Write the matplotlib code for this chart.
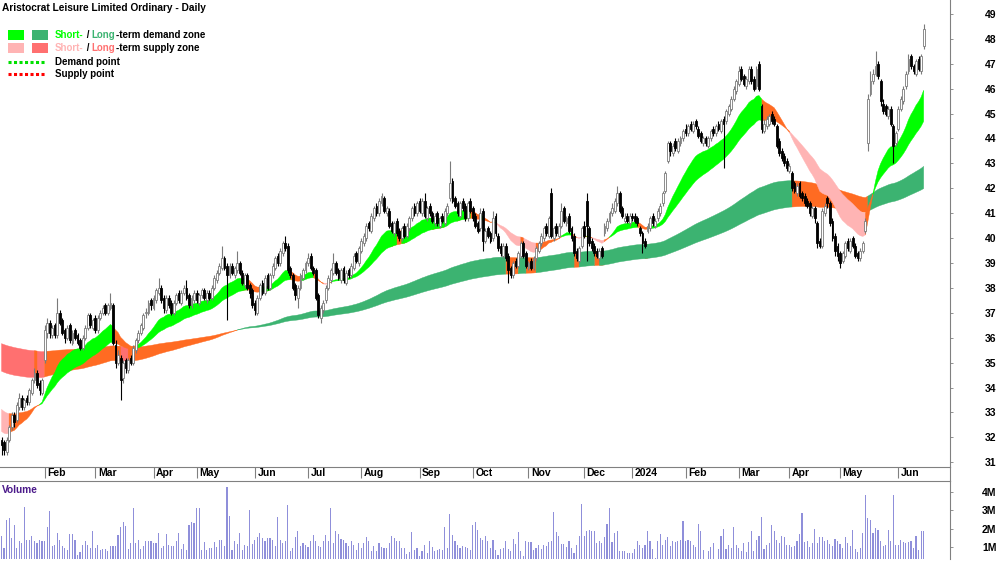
#!/usr/bin/env python3
"""
Daily candles for Aristocrat Leisure with short/long-term demand & supply zones.
"""

import numpy as np
import pandas as pd
import matplotlib

matplotlib.use("Agg")
import matplotlib.pyplot as plt
import matplotlib.transforms as mtransforms
from matplotlib.patches import Rectangle
from matplotlib.lines import Line2D

plt.rcParams["font.family"] = ["Liberation Sans", "DejaVu Sans"]

TITLE = "Aristocrat Leisure Limited Ordinary - Daily"
FIRST_SESSION = "2023-01-06"
ASX_HOLIDAYS = ["2023-01-26", "2023-04-07", "2023-04-10", "2023-04-25", "2023-06-12",
                "2023-12-25", "2023-12-26", "2024-01-01", "2024-01-26", "2024-03-29",
                "2024-04-01", "2024-04-25", "2024-06-10"]

# daily prices (AUD)
opens = [
    31.9, 31.8, 31.4, 31.9, 32.4, 32.9, 32.7, 33.2, 33.6, 33.2,
    33.6, 33.4, 33.8, 34.3, 34.6, 34.2, 33.8, 35.1, 36.2, 36.6,
    36.1, 36.5, 36.1, 37.0, 36.7, 36.3, 36.0, 36.5, 35.8, 36.3,
    36.1, 35.9, 35.6, 36.0, 36.4, 36.9, 36.4, 36.8, 36.3, 36.8,
    37.0, 37.3, 37.0, 37.2, 37.3, 35.7, 35.0, 35.2, 34.4, 35.1,
    34.7, 35.2, 35.0, 35.5, 35.9, 36.2, 36.4, 37.0, 37.0, 37.5,
    37.2, 37.5, 37.8, 38.0, 37.6, 37.1, 37.6, 37.4, 37.0, 37.4,
    37.8, 37.4, 37.8, 38.0, 37.7, 37.3, 37.5, 37.8, 37.4, 37.7,
    37.9, 37.5, 37.8, 37.6, 38.0, 38.3, 38.6, 38.8, 39.2, 38.9,
    38.5, 38.9, 38.5, 38.7, 39.0, 38.6, 38.1, 38.5, 38.1, 37.9,
    37.4, 37.0, 37.6, 38.2, 37.8, 38.5, 38.0, 38.5, 38.8, 39.3,
    39.0, 39.4, 39.8, 39.7, 38.8, 38.5, 38.1, 37.6, 38.0, 38.4,
    38.7, 39.0, 39.3, 38.8, 38.7, 37.7, 36.8, 37.1, 37.5, 38.0,
    38.3, 38.6, 39.0, 38.7, 38.3, 38.8, 38.2, 38.7, 38.5, 38.8,
    39.4, 39.0, 39.5, 39.8, 40.0, 40.6, 40.3, 40.8, 41.3, 41.0,
    41.4, 41.6, 41.0, 41.1, 40.6, 40.2, 40.7, 40.3, 40.0, 40.5,
    40.1, 40.4, 40.8, 41.3, 41.0, 41.5, 41.0, 41.5, 40.8, 41.3,
    41.0, 40.6, 41.0, 40.5, 40.9, 40.6, 41.0, 41.6, 42.3, 41.6,
    41.4, 40.9, 41.5, 41.3, 40.8, 41.5, 41.2, 40.9, 40.6, 40.4,
    41.1, 39.9, 40.4, 40.2, 40.0, 40.9, 40.1, 39.7, 39.3, 39.7,
    39.3, 38.8, 38.5, 39.1, 38.9, 39.3, 39.8, 39.4, 38.8, 39.1,
    38.8, 39.2, 39.5, 39.8, 40.0, 40.5, 40.1, 41.8, 40.0, 40.5,
    40.1, 40.5, 41.2, 40.6, 40.9, 40.4, 40.1, 39.5, 39.1, 39.7,
    40.5, 41.5, 40.4, 39.9, 39.7, 39.5, 39.2, 39.6, 40.2, 40.4,
    40.7, 41.0, 41.1, 41.4, 41.8, 41.2, 40.7, 40.9, 40.6, 40.9,
    40.9, 40.8, 40.4, 40.2, 39.9, 40.3, 40.4, 40.9, 40.5, 40.8,
    41.0, 41.4, 41.9, 43.1, 43.8, 43.4, 43.9, 43.5, 43.8, 44.0,
    44.4, 44.2, 44.6, 44.3, 44.7, 44.4, 44.2, 43.8, 44.0, 43.7,
    44.0, 44.4, 44.2, 44.6, 44.3, 44.8, 44.7, 45.0, 45.2, 45.6,
    45.9, 46.2, 46.8, 46.5, 46.1, 46.3, 46.8, 46.4, 46.1, 47.0,
    45.3, 44.3, 44.5, 44.6, 45.0, 44.8, 44.5, 43.9, 43.5, 43.3,
    43.1, 42.7, 42.6, 42.2, 41.8, 42.2, 41.8, 41.7, 41.5, 41.4,
    40.9, 41.2, 40.6, 39.9, 39.7, 41.0, 41.6, 41.4, 40.7, 40.1,
    39.7, 39.4, 39.1, 39.3, 39.9, 39.5, 40.0, 39.7, 39.4, 39.2,
    39.5, 40.3, 43.8, 45.8, 46.3, 46.6, 47.0, 46.3, 45.4, 45.3,
    44.9, 45.2, 44.5, 43.8, 44.4, 45.2, 45.5, 46.1, 46.7, 47.3,
    46.9, 46.6, 47.2, 46.7, 47.7,
]
highs = [
    32.0, 31.9, 32.0, 32.5, 33.0, 33.0, 33.4, 33.8, 33.7, 33.6,
    33.7, 34.0, 34.4, 34.8, 34.7, 34.3, 34.4, 36.5, 36.8, 36.7,
    36.5, 36.6, 37.6, 37.1, 36.8, 36.4, 36.5, 36.6, 36.3, 36.4,
    36.2, 36.0, 36.1, 36.5, 37.0, 37.0, 36.8, 36.9, 36.9, 37.1,
    37.3, 37.4, 37.4, 37.8, 37.4, 35.9, 35.5, 35.3, 35.1, 35.2,
    35.2, 35.3, 35.7, 36.0, 36.3, 36.6, 37.0, 37.2, 37.5, 37.6,
    37.7, 38.0, 38.4, 38.1, 37.7, 37.7, 37.7, 37.5, 37.5, 37.8,
    37.9, 37.9, 38.1, 38.3, 37.8, 37.7, 37.9, 37.9, 37.8, 38.0,
    38.0, 37.9, 37.9, 38.1, 38.5, 38.7, 39.0, 39.7, 39.3, 39.0,
    39.0, 39.0, 38.9, 39.5, 39.1, 38.7, 38.6, 38.6, 38.2, 38.0,
    37.5, 37.7, 38.2, 38.3, 38.5, 38.6, 38.6, 39.0, 39.3, 39.4,
    39.6, 39.9, 40.1, 39.8, 38.9, 38.6, 38.2, 38.1, 38.6, 38.8,
    39.1, 39.4, 39.4, 38.9, 38.8, 37.8, 37.3, 37.5, 38.1, 38.5,
    38.8, 39.4, 39.1, 38.8, 38.8, 38.9, 38.7, 38.8, 39.0, 39.4,
    39.5, 39.7, 40.0, 40.2, 40.6, 40.7, 41.0, 41.3, 41.4, 41.6,
    41.8, 41.7, 41.3, 41.2, 40.7, 40.7, 40.8, 40.4, 40.5, 40.6,
    40.6, 40.9, 41.3, 41.4, 41.5, 41.6, 41.6, 41.8, 41.3, 41.4,
    41.1, 41.0, 41.1, 40.9, 41.0, 41.2, 41.4, 43.1, 42.4, 41.7,
    41.5, 41.5, 41.6, 41.4, 41.5, 41.6, 41.3, 41.0, 40.7, 41.2,
    41.2, 40.4, 40.5, 40.3, 41.1, 41.0, 40.2, 39.8, 39.8, 39.8,
    39.4, 38.9, 39.1, 39.2, 39.5, 39.9, 39.9, 39.5, 39.1, 39.2,
    39.3, 39.7, 39.9, 40.2, 40.5, 40.6, 40.9, 42.0, 40.5, 40.6,
    40.6, 41.4, 41.3, 40.9, 41.0, 40.5, 40.2, 39.6, 39.7, 40.5,
    40.7, 41.8, 40.5, 40.0, 39.8, 39.6, 39.6, 39.7, 40.6, 40.8,
    41.1, 41.4, 41.6, 42.1, 41.9, 41.3, 41.0, 41.0, 41.0, 41.0,
    41.0, 40.9, 40.5, 40.3, 40.0, 40.6, 40.9, 41.0, 40.8, 41.2,
    41.4, 41.9, 42.7, 43.9, 43.9, 43.8, 44.0, 44.0, 44.1, 44.4,
    44.6, 44.6, 44.7, 44.7, 44.8, 44.5, 44.3, 44.1, 44.1, 44.1,
    44.4, 44.5, 44.6, 44.7, 44.8, 44.9, 45.2, 45.4, 45.7, 46.1,
    46.4, 46.9, 46.9, 46.6, 46.5, 46.9, 46.9, 46.5, 46.9, 47.1,
    45.4, 44.8, 44.9, 45.0, 45.1, 44.9, 44.6, 44.0, 43.6, 43.4,
    43.2, 43.0, 42.7, 42.3, 42.2, 42.3, 41.9, 41.8, 41.6, 41.5,
    41.3, 41.3, 40.7, 40.0, 41.2, 41.4, 41.7, 41.5, 40.8, 40.2,
    39.8, 39.5, 39.5, 39.9, 40.0, 40.0, 40.1, 39.8, 39.5, 39.6,
    39.9, 40.8, 45.8, 46.7, 46.8, 47.5, 47.1, 46.4, 45.6, 45.4,
    45.3, 45.3, 44.6, 44.3, 45.3, 45.7, 46.1, 46.7, 47.4, 47.4,
    47.0, 47.2, 47.3, 47.4, 48.6,
]
lows = [
    31.3, 31.3, 31.3, 31.8, 32.3, 32.4, 32.6, 33.1, 33.1, 33.1,
    33.3, 33.3, 33.7, 34.2, 34.0, 33.7, 33.7, 35.0, 36.0, 36.0,
    36.0, 36.0, 36.0, 36.5, 36.1, 35.8, 35.9, 35.8, 35.7, 35.9,
    35.7, 35.5, 35.5, 35.9, 36.3, 36.4, 36.3, 36.2, 36.2, 36.7,
    36.9, 36.9, 36.9, 37.1, 35.7, 34.8, 34.9, 33.5, 34.2, 34.6,
    34.6, 34.9, 34.9, 35.4, 35.8, 36.1, 36.3, 36.8, 36.9, 37.1,
    37.1, 37.4, 37.7, 37.4, 37.0, 37.0, 37.2, 36.9, 36.9, 37.3,
    37.4, 37.3, 37.7, 37.5, 37.2, 37.2, 37.4, 37.4, 37.3, 37.6,
    37.5, 37.4, 37.5, 37.5, 37.9, 38.2, 38.5, 38.7, 38.7, 36.7,
    38.4, 38.5, 38.4, 38.6, 38.5, 38.1, 38.0, 37.9, 37.6, 37.2,
    36.9, 36.9, 37.5, 37.7, 37.7, 37.9, 37.9, 38.4, 38.7, 38.9,
    38.9, 39.3, 39.5, 38.6, 38.4, 37.9, 37.5, 37.2, 37.9, 38.3,
    38.6, 38.9, 38.7, 38.5, 37.5, 36.8, 36.6, 37.0, 37.4, 37.9,
    38.2, 38.5, 38.5, 38.3, 38.2, 38.2, 38.1, 38.4, 38.4, 38.7,
    39.0, 38.9, 39.4, 39.7, 39.9, 40.3, 40.2, 40.7, 40.9, 40.9,
    41.3, 41.0, 40.9, 40.4, 40.2, 40.1, 40.1, 39.9, 39.9, 40.0,
    40.0, 40.3, 40.7, 40.9, 40.9, 41.0, 40.9, 40.8, 40.7, 40.9,
    40.6, 40.5, 40.5, 40.4, 40.6, 40.5, 40.9, 41.5, 41.4, 41.2,
    40.9, 40.8, 41.1, 40.7, 40.7, 41.0, 40.7, 40.4, 40.2, 40.3,
    39.5, 39.8, 40.0, 39.8, 39.9, 40.1, 39.5, 39.3, 39.2, 39.1,
    38.2, 38.4, 38.4, 38.8, 38.8, 39.2, 39.2, 38.8, 38.7, 38.7,
    38.7, 39.1, 39.4, 39.7, 39.9, 40.1, 40.0, 40.0, 39.9, 40.1,
    40.0, 40.4, 40.6, 40.5, 40.2, 39.9, 39.3, 39.1, 39.0, 39.6,
    40.0, 39.1, 39.7, 39.5, 39.3, 39.2, 39.1, 39.2, 40.1, 40.3,
    40.6, 40.9, 41.0, 41.3, 41.0, 40.8, 40.6, 40.6, 40.5, 40.7,
    40.6, 40.5, 40.1, 39.4, 39.6, 40.2, 40.3, 40.5, 40.4, 40.7,
    40.9, 41.3, 41.8, 43.0, 43.3, 43.3, 43.5, 43.4, 43.7, 43.9,
    44.1, 44.1, 44.3, 44.2, 44.4, 44.0, 43.8, 43.7, 43.7, 43.6,
    43.9, 44.1, 44.1, 44.3, 44.2, 42.8, 44.6, 44.9, 45.1, 45.5,
    45.8, 46.1, 46.3, 46.1, 46.0, 46.2, 46.2, 45.9, 46.0, 45.9,
    44.2, 44.2, 44.4, 44.5, 44.6, 44.5, 43.6, 43.3, 43.1, 42.9,
    42.7, 42.6, 41.9, 41.8, 41.7, 41.6, 41.5, 41.3, 41.2, 40.9,
    40.8, 40.6, 39.6, 39.6, 39.6, 40.9, 41.2, 40.5, 39.9, 39.3,
    39.1, 38.8, 39.0, 39.2, 39.5, 39.4, 39.6, 39.2, 39.1, 39.1,
    39.4, 40.2, 43.5, 45.7, 46.2, 46.5, 46.4, 45.3, 45.0, 44.9,
    44.8, 44.5, 43.0, 43.7, 44.3, 45.1, 45.4, 46.0, 46.6, 46.8,
    46.6, 46.5, 46.7, 46.6, 47.6,
]
closes = [
    31.7, 31.5, 31.9, 32.4, 32.9, 32.6, 33.3, 33.6, 33.2, 33.5,
    33.4, 33.9, 34.3, 34.6, 34.1, 33.9, 34.3, 36.3, 36.6, 36.2,
    36.4, 36.1, 37.0, 36.6, 36.2, 36.0, 36.4, 35.9, 36.2, 36.0,
    35.8, 35.6, 36.0, 36.4, 36.9, 36.5, 36.7, 36.3, 36.8, 37.0,
    37.2, 37.0, 37.3, 37.4, 35.8, 35.0, 35.3, 34.3, 35.0, 34.8,
    35.1, 35.0, 35.6, 35.9, 36.2, 36.5, 36.9, 37.0, 37.4, 37.3,
    37.6, 37.9, 38.0, 37.5, 37.2, 37.6, 37.3, 37.0, 37.4, 37.7,
    37.5, 37.8, 38.0, 37.6, 37.3, 37.6, 37.8, 37.5, 37.7, 37.9,
    37.6, 37.8, 37.6, 38.0, 38.4, 38.6, 38.9, 39.2, 38.8, 38.5,
    38.9, 38.6, 38.8, 39.0, 38.6, 38.2, 38.5, 38.0, 37.8, 37.3,
    37.1, 37.6, 38.1, 37.8, 38.4, 38.0, 38.5, 38.9, 39.2, 39.0,
    39.5, 39.8, 39.6, 38.7, 38.5, 38.0, 37.7, 38.0, 38.5, 38.7,
    39.0, 39.2, 38.8, 38.6, 37.6, 36.9, 37.2, 37.4, 38.0, 38.4,
    38.7, 39.0, 38.6, 38.4, 38.7, 38.3, 38.6, 38.5, 38.9, 39.3,
    39.1, 39.6, 39.9, 40.1, 40.5, 40.4, 40.9, 41.2, 41.0, 41.5,
    41.7, 41.1, 41.2, 40.5, 40.3, 40.6, 40.2, 40.0, 40.4, 40.1,
    40.5, 40.8, 41.2, 41.0, 41.4, 41.1, 41.5, 40.9, 41.2, 41.0,
    40.7, 40.9, 40.6, 40.8, 40.7, 41.1, 41.3, 42.2, 41.5, 41.3,
    41.0, 41.4, 41.2, 40.8, 41.4, 41.1, 40.8, 40.5, 40.3, 41.0,
    39.9, 40.3, 40.1, 39.9, 40.8, 40.2, 39.6, 39.4, 39.7, 39.2,
    38.7, 38.5, 39.0, 38.9, 39.4, 39.8, 39.3, 38.9, 39.0, 38.8,
    39.2, 39.6, 39.8, 40.1, 40.4, 40.2, 40.8, 40.1, 40.4, 40.2,
    40.5, 41.1, 40.7, 40.8, 40.3, 40.0, 39.4, 39.2, 39.6, 40.4,
    40.1, 40.5, 39.8, 39.6, 39.4, 39.3, 39.5, 39.3, 40.5, 40.7,
    41.0, 41.2, 41.5, 41.8, 41.1, 40.9, 40.8, 40.7, 40.9, 40.8,
    40.7, 40.6, 40.2, 39.8, 39.7, 40.5, 40.8, 40.6, 40.7, 41.1,
    41.3, 41.8, 42.6, 43.8, 43.5, 43.7, 43.6, 43.9, 44.0, 44.3,
    44.2, 44.5, 44.4, 44.6, 44.5, 44.1, 43.9, 44.0, 43.8, 44.0,
    44.3, 44.2, 44.5, 44.4, 44.7, 44.6, 45.1, 45.3, 45.6, 46.0,
    46.3, 46.7, 46.4, 46.2, 46.4, 46.8, 46.3, 46.0, 46.8, 46.0,
    44.4, 44.6, 44.8, 44.9, 44.7, 44.6, 43.7, 43.4, 43.2, 43.0,
    42.8, 42.9, 42.0, 41.9, 42.1, 41.7, 41.6, 41.4, 41.3, 41.0,
    41.2, 40.8, 39.8, 39.7, 41.1, 41.3, 41.4, 40.6, 40.0, 39.5,
    39.3, 39.0, 39.4, 39.8, 39.6, 39.9, 39.7, 39.3, 39.2, 39.5,
    39.8, 40.7, 45.6, 46.3, 46.6, 46.9, 46.5, 45.5, 45.1, 45.0,
    45.2, 44.6, 43.7, 44.2, 45.2, 45.6, 46.0, 46.6, 47.2, 46.9,
    46.7, 47.1, 46.8, 47.3, 48.4,
]
# daily volume in millions of shares
volumes_m = [
    1.58, 0.95, 2.48, 2.57, 1.49, 2.21, 0.95, 1.31, 1.22, 3.17,
    1.40, 1.40, 1.58, 1.31, 1.22, 1.40, 1.35, 1.31, 2.07, 2.94,
    1.04, 1.09, 1.76, 1.40, 1.04, 0.95, 0.86, 1.71, 1.71, 1.40,
    0.55, 0.73, 1.13, 1.35, 1.09, 0.95, 1.89, 0.95, 1.13, 0.86,
    0.90, 0.90, 0.77, 1.04, 1.04, 1.07, 1.67, 2.12, 2.39, 2.16,
    0.91, 1.22, 3.12, 1.22, 1.40, 0.90, 1.04, 1.31, 1.31, 1.31,
    1.22, 1.22, 1.76, 0.95, 1.04, 1.71, 1.13, 1.04, 1.04, 1.31,
    1.76, 0.91, 1.16, 0.86, 2.21, 2.36, 2.30, 3.15, 3.15, 0.86,
    1.25, 0.86, 0.95, 0.95, 1.27, 1.00, 1.40, 1.40, 1.04, 4.30,
    2.72, 0.86, 1.31, 1.16, 1.76, 0.86, 1.13, 1.04, 3.01, 1.16,
    1.40, 1.53, 1.76, 1.49, 1.35, 1.49, 1.49, 1.40, 1.04, 2.66,
    1.40, 1.22, 1.35, 3.30, 0.77, 0.95, 1.53, 1.85, 1.04, 1.22,
    1.13, 0.99, 1.31, 1.67, 1.31, 1.04, 0.99, 1.31, 1.67, 1.31,
    3.15, 1.22, 1.89, 1.71, 1.44, 1.40, 1.22, 1.04, 1.31, 1.13,
    0.86, 1.22, 0.95, 1.22, 1.53, 1.31, 0.81, 1.04, 0.81, 1.22,
    0.99, 0.95, 0.95, 1.22, 1.62, 1.49, 1.35, 1.35, 0.95, 0.95,
    0.62, 0.73, 1.82, 0.86, 0.95, 0.49, 0.81, 1.13, 0.67, 1.35,
    0.99, 0.81, 0.86, 0.90, 0.86, 2.07, 0.95, 2.79, 1.67, 1.35,
    1.13, 0.95, 1.04, 1.00, 0.95, 0.86, 2.21, 2.34, 1.94, 1.49,
    1.40, 1.58, 1.35,
    0.95, 1.40, 0.86, 0.58, 0.91, 0.95, 1.35, 0.91, 0.77, 1.44,
    1.16, 1.82, 0.77, 0.49, 1.31, 1.27, 1.27, 0.86, 0.95, 1.13,
    0.91, 1.13, 1.07, 1.27, 1.31, 2.89, 1.82, 1.63, 1.16, 1.16,
    0.98, 1.35, 0.95, 0.67, 1.13, 1.58, 3.34, 1.63, 1.89, 1.94,
    1.89, 1.89, 1.22, 1.31, 1.22, 1.53, 2.25, 3.15, 1.25, 1.76,
    1.85, 0.77, 0.77, 0.77, 0.67, 0.65, 0.67, 0.91, 1.31, 1.13,
    0.95, 1.13, 1.89, 1.31, 0.91, 0.40, 1.31, 1.71, 1.13, 1.40,
    1.53, 1.04, 1.31, 1.27, 1.31, 1.40, 2.43, 1.31, 1.40, 1.31,
    1.13, 0.98, 2.25, 1.85, 0.86, 0.37, 0.81, 0.98, 1.22, 0.37,
    0.91, 1.58, 2.00, 0.91, 1.13, 0.95, 2.07, 1.09, 0.95, 0.81,
    1.20, 0.73, 1.25, 1.85, 0.81, 1.36, 1.63, 2.66, 0.91, 1.13,
    1.22, 2.18, 1.85, 1.40, 1.22, 1.58, 1.53, 1.13, 1.13, 0.98,
    1.04, 1.35, 1.71, 2.85, 1.25, 1.31, 0.98, 1.22, 2.00, 1.22,
    1.53, 1.53, 1.35, 1.40, 1.16, 1.04, 1.44, 1.35, 1.16, 0.95,
    1.56, 1.22, 1.04, 1.94, 0.91, 0.73, 0.95, 1.76, 3.84, 2.61,
    2.48, 1.76, 2.03, 1.94, 1.31, 1.04, 1.13, 1.94, 1.35, 3.84,
    1.09, 1.09, 1.40, 1.27, 1.22, 1.25, 1.35, 0.95, 1.58, 0.86,
    1.85, 1.89,
]

# zone averages: (fast, slow) EMA spans and their values on the first session
SHORT_SPANS = (19, 38)
SHORT_START = (32.3, 33.2)
LONG_SPANS = (140, 220)
LONG_START = (34.7, 35.8)

PRICE_TICKS = list(range(31, 50))
VOLUME_TICKS = [1, 2, 3, 4]

GREEN_SHORT = "#00FF00"
GREEN_LONG = "#3CB371"
PINK_SHORT = "#FFB4B4"
RED_LONG = "#FF7070"
ORANGE = "#FF6B22"
GREY = "#808080"

W, H = 1000, 562


def ema(values, span, start):
    alpha = 2.0 / (span + 1)
    out = np.empty(len(values))
    prev = start
    for i, v in enumerate(values):
        prev = prev + alpha * (v - prev)
        out[i] = prev
    return out


def zone_state(fast, slow, fast_start):
    """0 = supply, 1 = mixed, 2 = demand."""
    rising = np.diff(fast, prepend=fast_start) >= 0
    state = np.ones(len(fast), dtype=int)
    state[(fast > slow) & rising] = 2
    state[(fast < slow) & ~rising] = 0
    return state


def draw_zone(ax, x, fast, slow, state, colours, z):
    lo = np.minimum(fast, slow)
    hi = np.maximum(fast, slow)
    for k, colour in colours.items():
        m = state == k
        m_ext = m.copy()
        m_ext[1:] |= m[:-1]
        ax.fill_between(x, lo, hi, where=m_ext, facecolor=colour,
                        edgecolor=colour, linewidth=0.3, zorder=z)


def fx(px):
    return px / W


def fy(py):
    return 1 - py / H


def main() -> None:
    dates = pd.bdate_range(FIRST_SESSION, periods=len(closes), freq="C",
                           holidays=ASX_HOLIDAYS)
    o = np.array(opens)
    c = np.array(closes)
    hi = np.maximum(np.array(highs), np.maximum(o, c))
    lo = np.minimum(np.array(lows), np.minimum(o, c))
    vol = np.array(volumes_m)
    x = np.arange(len(c))

    fig = plt.figure(figsize=(10, 5.62), dpi=100)
    ax = fig.add_axes([0, fy(467), fx(950), 1 - fy(467)])
    axv = fig.add_axes([0, fy(559), fx(950), fy(481) - fy(559)])

    # zones
    sf = ema(c, SHORT_SPANS[0], SHORT_START[0])
    ss = ema(c, SHORT_SPANS[1], SHORT_START[1])
    lf = ema(c, LONG_SPANS[0], LONG_START[0])
    ls = ema(c, LONG_SPANS[1], LONG_START[1])
    draw_zone(ax, x, lf, ls, zone_state(lf, ls, LONG_START[0]),
              {0: RED_LONG, 1: ORANGE, 2: GREEN_LONG}, 1)
    draw_zone(ax, x, sf, ss, zone_state(sf, ss, SHORT_START[0]),
              {0: PINK_SHORT, 1: ORANGE, 2: GREEN_SHORT}, 2)

    # candles
    up = c >= o
    ax.vlines(x, lo, hi, colors=np.where(up, "#7a7a7a", "#000000"),
              linewidth=0.8, zorder=3)
    ax.bar(x, np.maximum(np.abs(c - o), 0.04), bottom=np.minimum(o, c),
           width=0.75, color=np.where(up, "white", "black"),
           edgecolor=np.where(up, "#7a7a7a", "black"), linewidth=0.6, zorder=4)

    # volume
    axv.bar(x, vol, width=0.45, color="#8F8FDA", linewidth=0)

    xlim = (-0.6, 374.4)
    ax.set_xlim(*xlim)
    axv.set_xlim(*xlim)
    ax.set_ylim(30.81, 49.56)
    axv.set_ylim(0.35, 4.6)

    for a in (ax, axv):
        a.set_facecolor("white")
        a.spines["left"].set_visible(False)
        a.spines["right"].set_color(GREY)
        a.yaxis.tick_right()
        a.tick_params(axis="y", direction="out", length=2.5, width=0.6,
                      colors=GREY, labelcolor="black", labelsize=7.5, pad=31)
    ax.spines["top"].set_visible(False)
    ax.spines["bottom"].set_color(GREY)
    axv.spines["bottom"].set_visible(False)
    axv.spines["top"].set_color(GREY)

    ax.set_yticks(PRICE_TICKS)
    ax.set_yticklabels([str(t) for t in PRICE_TICKS])
    axv.set_yticks(VOLUME_TICKS)
    axv.set_yticklabels([f"{t}M" for t in VOLUME_TICKS])
    for a in (ax, axv):
        for lab in a.get_yticklabels():
            lab.set_horizontalalignment("right")
            lab.set_fontweight("bold")

    # month ticks on the first session of each month
    month = dates.month
    starts = [i for i in range(1, len(dates)) if month[i] != month[i - 1]]
    labels = [str(dates[i].year) if dates[i].month == 1 else dates[i].strftime("%b")
              for i in starts]
    ax.set_xticks(starts)
    ax.set_xticklabels(labels)
    ax.tick_params(axis="x", direction="out", length=8, width=0.8, colors=GREY,
                   labelcolor="black", labelsize=7.5, pad=-7.5)
    shift = mtransforms.ScaledTranslation(2.5 / 100, 0, fig.dpi_scale_trans)
    for lab in ax.get_xticklabels():
        lab.set_horizontalalignment("left")
        lab.set_verticalalignment("top")
        lab.set_fontweight("bold")
        lab.set_transform(lab.get_transform() + shift)
    axv.set_xticks([])

    fig.add_artist(Line2D([fx(950), fx(950)], [fy(467), fy(481)], color=GREY, lw=0.8))

    # title and legend
    fig.text(fx(2), fy(8), TITLE, fontsize=7.3, fontweight="bold", va="center")
    fig.text(fx(2), fy(490), "Volume", fontsize=7.3, fontweight="bold",
             color="#4B1A8A", va="center")

    swatches = [(35, GREEN_SHORT, GREEN_LONG), (48, PINK_SHORT, RED_LONG)]
    for yc, c1, c2 in swatches:
        for x0, col in ((8, c1), (32, c2)):
            fig.add_artist(Rectangle((fx(x0), fy(yc + 5)), fx(16), 10 / H,
                                     transform=fig.transFigure, facecolor=col,
                                     edgecolor="none"))
    rows = [
        (35, [("Short-", GREEN_SHORT), (" / ", "black"),
              ("Long", GREEN_LONG), ("-term demand zone", "black")]),
        (48, [("Short-", PINK_SHORT), (" / ", "black"),
              ("Long", RED_LONG), ("-term supply zone", "black")]),
        (62, [("Demand point", "black")]),
        (74, [("Supply point", "black")]),
    ]
    for yc, parts in rows:
        s, col = parts[0]
        t = fig.text(fx(55), fy(yc), s, color=col, fontweight="bold", fontsize=7.0,
                     va="center")
        for s, col in parts[1:]:
            t = ax.annotate(s, xy=(1, 0), xycoords=t, va="bottom", ha="left",
                            color=col, fontweight="bold", fontsize=7.0,
                            annotation_clip=False)
    for yc, col in ((62, "#00E000"), (74, "#FF0000")):
        fig.add_artist(Line2D([fx(8), fx(46)], [fy(yc), fy(yc)], color=col, lw=2.2,
                              linestyle=(0, (1, 0.8))))

    fig.savefig("out.png", dpi=100)
    plt.close(fig)


if __name__ == "__main__":
    main()
